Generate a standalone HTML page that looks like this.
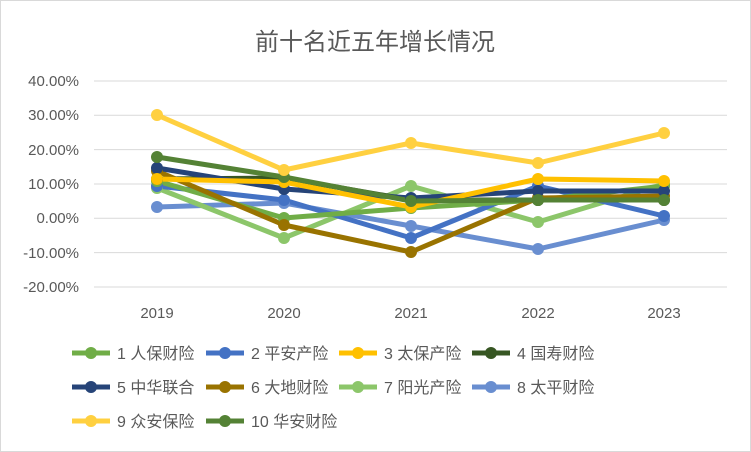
<!DOCTYPE html>
<html><head><meta charset="utf-8"><style>
body{margin:0;background:#fff}
svg{display:block}
text{font-family:"Liberation Sans","Noto Sans CJK SC",sans-serif}
</style></head><body>
<svg width="751" height="452" viewBox="0 0 751 452">
<rect x="0.5" y="0.5" width="750" height="451" fill="#fff" stroke="#d9d9d9"/>
<text x="375" y="50" text-anchor="middle" font-size="24" fill="#595959">前十名近五年增长情况</text>
<g stroke="#d9d9d9" stroke-width="1">
<line x1="94" x2="727" y1="81" y2="81"/><line x1="94" x2="727" y1="115.3" y2="115.3"/>
<line x1="94" x2="727" y1="149.6" y2="149.6"/><line x1="94" x2="727" y1="184" y2="184"/>
<line x1="94" x2="727" y1="218.3" y2="218.3"/><line x1="94" x2="727" y1="252.6" y2="252.6"/>
<line x1="94" x2="727" y1="287" y2="287"/>
</g>
<g font-size="15" fill="#595959" text-anchor="end">
<text x="79" y="86">40.00%</text><text x="79" y="120">30.00%</text><text x="79" y="155">20.00%</text>
<text x="79" y="189">10.00%</text><text x="79" y="223">0.00%</text><text x="79" y="258">-10.00%</text>
<text x="79" y="292">-20.00%</text>
</g>
<g font-size="15" fill="#595959" text-anchor="middle">
<text x="157" y="318">2019</text><text x="284" y="318">2020</text><text x="411" y="318">2021</text>
<text x="538" y="318">2022</text><text x="664" y="318">2023</text>
</g>
<g fill="none" stroke-width="5" stroke-linejoin="round">
<polyline stroke="#698ed0" points="157,207 284,203 411,226 538,249 664,220"/>
<polyline stroke="#8cc66a" points="157,188 284,238 411,186 538,222 664,184"/>
<polyline stroke="#4472c4" points="157,186 284,200 411,238 538,186 664,216"/>
<polyline stroke="#70ad47" points="157,181 284,218 411,208 538,200 664,186"/>
<polyline stroke="#375623" points="157,179 284,178 411,200 538,200 664,200"/>
<polyline stroke="#997300" points="157,171 284,225 411,252 538,198 664,196"/>
<polyline stroke="#264478" points="157,168 284,189 411,198 538,191 664,191"/>
<polyline stroke="#ffc000" points="157,179 284,182 411,207 538,179 664,181"/>
<polyline stroke="#548235" points="157,157 284,177 411,201 538,200 664,200"/>
<polyline stroke="#ffd040" points="157,115 284,170 411,143 538,163 664,133"/>
</g>
<g stroke="none">
<g fill="#698ed0"><circle cx="157" cy="207" r="6"/><circle cx="284" cy="203" r="6"/><circle cx="411" cy="226" r="6"/><circle cx="538" cy="249" r="6"/><circle cx="664" cy="220" r="6"/></g>
<g fill="#8cc66a"><circle cx="157" cy="188" r="6"/><circle cx="284" cy="238" r="6"/><circle cx="411" cy="186" r="6"/><circle cx="538" cy="222" r="6"/><circle cx="664" cy="184" r="6"/></g>
<g fill="#4472c4"><circle cx="157" cy="186" r="6"/><circle cx="284" cy="200" r="6"/><circle cx="411" cy="238" r="6"/><circle cx="538" cy="186" r="6"/><circle cx="664" cy="216" r="6"/></g>
<g fill="#70ad47"><circle cx="157" cy="181" r="6"/><circle cx="284" cy="218" r="6"/><circle cx="411" cy="208" r="6"/><circle cx="538" cy="200" r="6"/><circle cx="664" cy="186" r="6"/></g>
<g fill="#375623"><circle cx="157" cy="179" r="6"/><circle cx="284" cy="178" r="6"/><circle cx="411" cy="200" r="6"/><circle cx="538" cy="200" r="6"/><circle cx="664" cy="200" r="6"/></g>
<g fill="#997300"><circle cx="157" cy="171" r="6"/><circle cx="284" cy="225" r="6"/><circle cx="411" cy="252" r="6"/><circle cx="538" cy="198" r="6"/><circle cx="664" cy="196" r="6"/></g>
<g fill="#264478"><circle cx="157" cy="168" r="6"/><circle cx="284" cy="189" r="6"/><circle cx="411" cy="198" r="6"/><circle cx="538" cy="191" r="6"/><circle cx="664" cy="191" r="6"/></g>
<g fill="#ffc000"><circle cx="157" cy="179" r="6"/><circle cx="284" cy="182" r="6"/><circle cx="411" cy="207" r="6"/><circle cx="538" cy="179" r="6"/><circle cx="664" cy="181" r="6"/></g>
<g fill="#548235"><circle cx="157" cy="157" r="6"/><circle cx="284" cy="177" r="6"/><circle cx="411" cy="201" r="6"/><circle cx="538" cy="200" r="6"/><circle cx="664" cy="200" r="6"/></g>
<g fill="#ffd040"><circle cx="157" cy="115" r="6"/><circle cx="284" cy="170" r="6"/><circle cx="411" cy="143" r="6"/><circle cx="538" cy="163" r="6"/><circle cx="664" cy="133" r="6"/></g>
</g>
<g font-size="16" fill="#595959" stroke-width="5">
<g transform="translate(72,353)"><line x2="38" stroke="#70ad47"/><circle cx="19" r="6" fill="#70ad47"/><text x="45" y="6">1 人保财险</text></g>
<g transform="translate(206,353)"><line x2="38" stroke="#4472c4"/><circle cx="19" r="6" fill="#4472c4"/><text x="45" y="6">2 平安产险</text></g>
<g transform="translate(339,353)"><line x2="38" stroke="#ffc000"/><circle cx="19" r="6" fill="#ffc000"/><text x="45" y="6">3 太保产险</text></g>
<g transform="translate(472,353)"><line x2="38" stroke="#375623"/><circle cx="19" r="6" fill="#375623"/><text x="45" y="6">4 国寿财险</text></g>
<g transform="translate(72,387)"><line x2="38" stroke="#264478"/><circle cx="19" r="6" fill="#264478"/><text x="45" y="6">5 中华联合</text></g>
<g transform="translate(206,387)"><line x2="38" stroke="#997300"/><circle cx="19" r="6" fill="#997300"/><text x="45" y="6">6 大地财险</text></g>
<g transform="translate(339,387)"><line x2="38" stroke="#8cc66a"/><circle cx="19" r="6" fill="#8cc66a"/><text x="45" y="6">7 阳光产险</text></g>
<g transform="translate(472,387)"><line x2="38" stroke="#698ed0"/><circle cx="19" r="6" fill="#698ed0"/><text x="45" y="6">8 太平财险</text></g>
<g transform="translate(72,421)"><line x2="38" stroke="#ffd040"/><circle cx="19" r="6" fill="#ffd040"/><text x="45" y="6">9 众安保险</text></g>
<g transform="translate(206,421)"><line x2="38" stroke="#548235"/><circle cx="19" r="6" fill="#548235"/><text x="45" y="6">10 华安财险</text></g>
</g>
</svg>
</body></html>
